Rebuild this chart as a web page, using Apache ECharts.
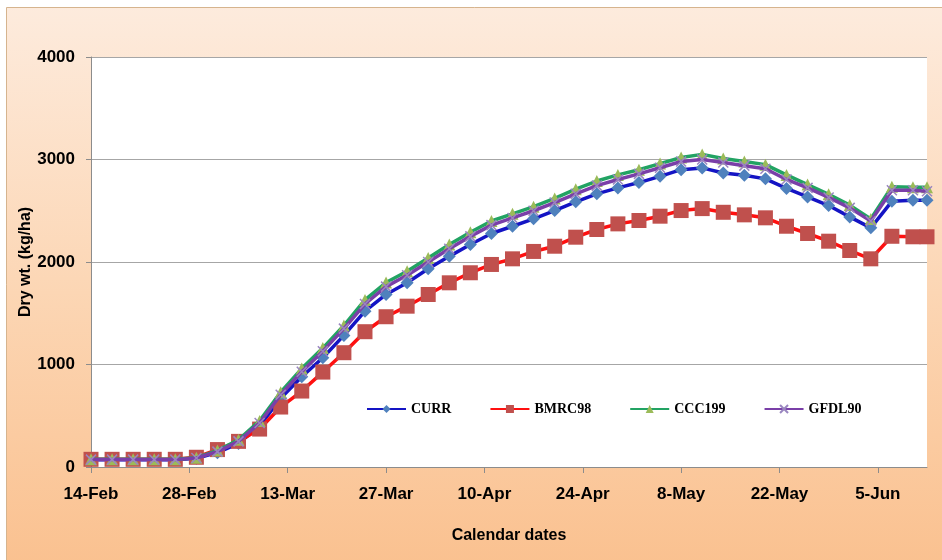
<!DOCTYPE html>
<html>
<head>
<meta charset="utf-8">
<script src="https://cdn.jsdelivr.net/npm/echarts@6/dist/echarts.min.js"></script>
<style>html,body{margin:0;padding:0;background:#fff;}#c{width:942px;height:560px;}</style>
</head>
<body>
<div id="c"></div>
<script>
// Days after 14-Feb at which values were recorded
const dayOffsets = [0,3,6,9,12,15,18,21,24,27,30,33,36,39,42,45,48,51,54,57,60,63,66,69,72,75,78,81,84,87,90,93,96,99,102,105,108,111,114,117,119];
const tickLabels = ['14-Feb','28-Feb','13-Mar','27-Mar','10-Apr','24-Apr','8-May','22-May','5-Jun'];
const tickStep = 14;
const yTicks = [0,1000,2000,3000,4000];

const curr   = [70,70,70,70,70,85,140,230,400,670,880,1066,1284,1520,1683,1797,1934,2055,2171,2278,2349,2421,2502,2587,2665,2723,2775,2836,2901,2918,2869,2846,2811,2718,2635,2551,2440,2333,2592,2602,2602];
const bmrc98 = [75,75,75,75,75,95,170,250,370,585,741,926,1115,1320,1466,1569,1683,1797,1895,1976,2031,2103,2154,2242,2317,2372,2405,2447,2502,2521,2485,2460,2431,2349,2278,2203,2112,2031,2251,2246,2246];
const ccc199 = [75,75,75,75,75,90,160,265,450,730,960,1160,1380,1630,1800,1910,2040,2170,2290,2400,2470,2540,2620,2710,2790,2850,2900,2960,3020,3050,3010,2980,2950,2850,2755,2660,2555,2420,2735,2730,2730];
const gfdl90 = [72,72,72,72,72,88,150,250,430,705,930,1130,1350,1590,1760,1870,2000,2130,2250,2360,2430,2500,2580,2665,2745,2805,2860,2920,2980,3000,2970,2940,2910,2805,2723,2630,2528,2400,2700,2700,2690];

const seriesNames = ['CURR','BMRC98','CCC199','GFDL90'];

function pairs(vals){ return dayOffsets.map((d,i)=>[d, vals[i]]); }
const tickValues = tickLabels.map((_,i)=>i*tickStep);

const font = '"Liberation Sans", Arial, sans-serif';
const chart = echarts.init(document.getElementById('c'), null, {renderer:'canvas'});
chart.setOption({
  backgroundColor: '#ffffff',
  animation: false,
  graphic: [{
    type: 'rect', z: -100, silent: true,
    shape: {x: 6.5, y: 7.5, width: 960, height: 570},
    style: {
      fill: {type:'linear', x:0, y:0, x2:0, y2:1, colorStops:[
        {offset:0, color:'#FDEBDD'}, {offset:0.5, color:'#FCD6B4'}, {offset:1, color:'#FAC08E'}]},
      stroke: '#D6B48E', lineWidth: 1
    }
  }],
  grid: {left: 91, right: 15, top: 57, bottom: 93, show: true, backgroundColor: '#ffffff', borderWidth: 0},
  legend: {
    left: 361, top: 397, itemWidth: 39, itemHeight: 10, itemGap: 38,
    textStyle: {fontFamily: '"Liberation Serif", "DejaVu Serif", serif', fontWeight: 'bold', fontSize: 14, color: '#000'},
    data: seriesNames
  },
  xAxis: {
    type: 'value', min: 0, max: 119, interval: tickStep,
    name: 'Calendar dates', nameLocation: 'middle', nameGap: 61,
    nameTextStyle: {fontFamily: font, fontWeight: 'bold', fontSize: 16, color: '#000'},
    axisLine: {lineStyle: {color: '#8C8C8C', width: 1}},
    axisTick: {show: true, length: 6, lineStyle: {color: '#8C8C8C'}, customValues: tickValues},
    axisLabel: {fontFamily: font, fontWeight: 'bold', fontSize: 17, color: '#000', margin: 19,
      customValues: tickValues,
      formatter: v => { const k = Math.round(v / tickStep); return (v % tickStep === 0 && tickLabels[k]) ? tickLabels[k] : ''; }},
    splitLine: {show: false}
  },
  yAxis: {
    type: 'value', min: yTicks[0], max: yTicks[yTicks.length-1], interval: 1000,
    name: 'Dry wt. (kg/ha)', nameLocation: 'middle', nameGap: 57, nameRotate: 90, nameMoveOverlap: false,
    nameTextStyle: {fontFamily: font, fontWeight: 'bold', fontSize: 16, color: '#000'},
    axisLine: {show: true, lineStyle: {color: '#8C8C8C', width: 1}},
    axisTick: {show: true, length: 5, lineStyle: {color: '#8C8C8C'}},
    axisLabel: {fontFamily: font, fontWeight: 'bold', fontSize: 17, color: '#000', margin: 16,
      formatter: v => String(v)},
    splitLine: {show: true, lineStyle: {color: '#A6A6A6', width: 1.2}}
  },
  series: [
    {name: 'CURR', type: 'line', data: pairs(curr), symbol: 'diamond', symbolSize: 13,
      lineStyle: {color: '#1414C4', width: 3.5}, itemStyle: {color: '#4F81BD', borderWidth: 0}, z: 2},
    {name: 'BMRC98', type: 'line', data: pairs(bmrc98), symbol: 'rect', symbolSize: 15,
      lineStyle: {color: '#FF1010', width: 3.5}, itemStyle: {color: '#C0504D', borderWidth: 0}, z: 3},
    {name: 'CCC199', type: 'line', data: pairs(ccc199), symbol: 'triangle', symbolSize: 12,
      lineStyle: {color: '#22A363', width: 3.5}, itemStyle: {color: '#9BBB59', borderWidth: 0}, z: 4},
    {name: 'GFDL90', type: 'line', data: pairs(gfdl90), symbol: 'path://M0,0L10,10M10,0L0,10', symbolSize: 10,
      lineStyle: {color: '#7A3FA8', width: 3.5}, itemStyle: {color: 'rgba(0,0,0,0)', borderColor: '#9A86C0', borderWidth: 1.5}, z: 5}
  ]
});
</script>
</body>
</html>
